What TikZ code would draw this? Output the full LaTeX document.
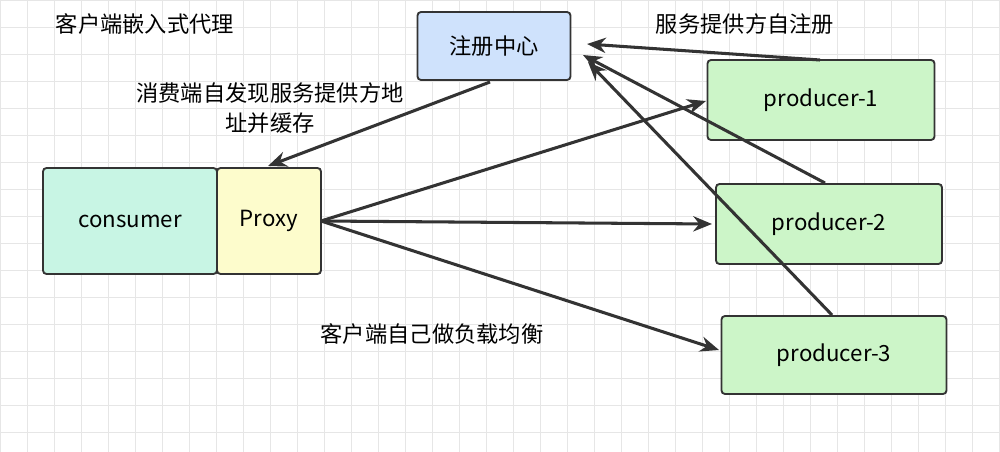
\documentclass[tikz,border=0pt]{standalone}
\usepackage{fontspec}
\setmainfont{Noto Sans CJK SC}
\usetikzlibrary{arrows.meta}
\definecolor{regc}{HTML}{CFE2FC}
\definecolor{conc}{HTML}{C8F5E4}
\definecolor{proxc}{HTML}{FDFCCC}
\definecolor{prodc}{HTML}{CCF5C8}
\definecolor{edgec}{HTML}{333333}
\definecolor{gridc}{HTML}{E6E6E6}
\begin{document}
\begin{tikzpicture}[x=0.03cm,y=-0.03cm,
  box/.style={draw=edgec,line width=1.6pt,rounded corners=3pt,minimum height=0.03cm*#1,inner sep=0pt,font=\fontsize{19}{22}\selectfont},
  arr/.style={draw=edgec,line width=2.6pt,-{Stealth[length=16pt,width=13pt]}},
  lbl/.style={font=\fontsize{19}{26}\selectfont,align=center}]
\useasboundingbox (0,0) rectangle (1000,452);
\fill[white] (0,0) rectangle (1000,452);
\draw[gridc,line width=0.5pt,step=0.81cm] (0,0) grid (1000,452);
\node[box=68,fill=regc,minimum width=4.59cm] (reg) at (494,46) {注册中心};
\node[box=106,fill=conc,minimum width=5.22cm] (con) at (130,221) {consumer};
\node[box=106,fill=proxc,minimum width=3.12cm] (prx) at (269,221) {Proxy};
\node[box=80,fill=prodc,minimum width=6.81cm] (p1) at (821,100) {producer-1};
\node[box=80,fill=prodc,minimum width=6.78cm] (p2) at (829,224) {producer-2};
\node[box=78,fill=prodc,minimum width=6.75cm] (p3) at (834,355) {producer-3};
\coordinate (rb) at (490,82);
\coordinate (pt) at (268,166);
\coordinate (pr) at (321,221);
\draw[arr] (rb) -- (pt);
\draw[arr] (pr) -- (706,101);
\draw[arr] (pr) -- (712,224);
\draw[arr] (pr) -- (719,350);
\draw[arr] (820,60) -- (587,44);
\draw[arr] (825,183) -- (583,55);
\draw[arr] (832,315) -- (588,62);
\node[lbl] (t1) at (145,24) {客户端嵌入式代理};
\node[lbl] (t2) at (745,24) {服务提供方自注册};
\node[lbl] (t3) at (270,108) {消费端自发现服务提供方地\\址并缓存};
\node[lbl] (t4) at (432,334) {客户端自己做负载均衡};
\end{tikzpicture}
\end{document}
